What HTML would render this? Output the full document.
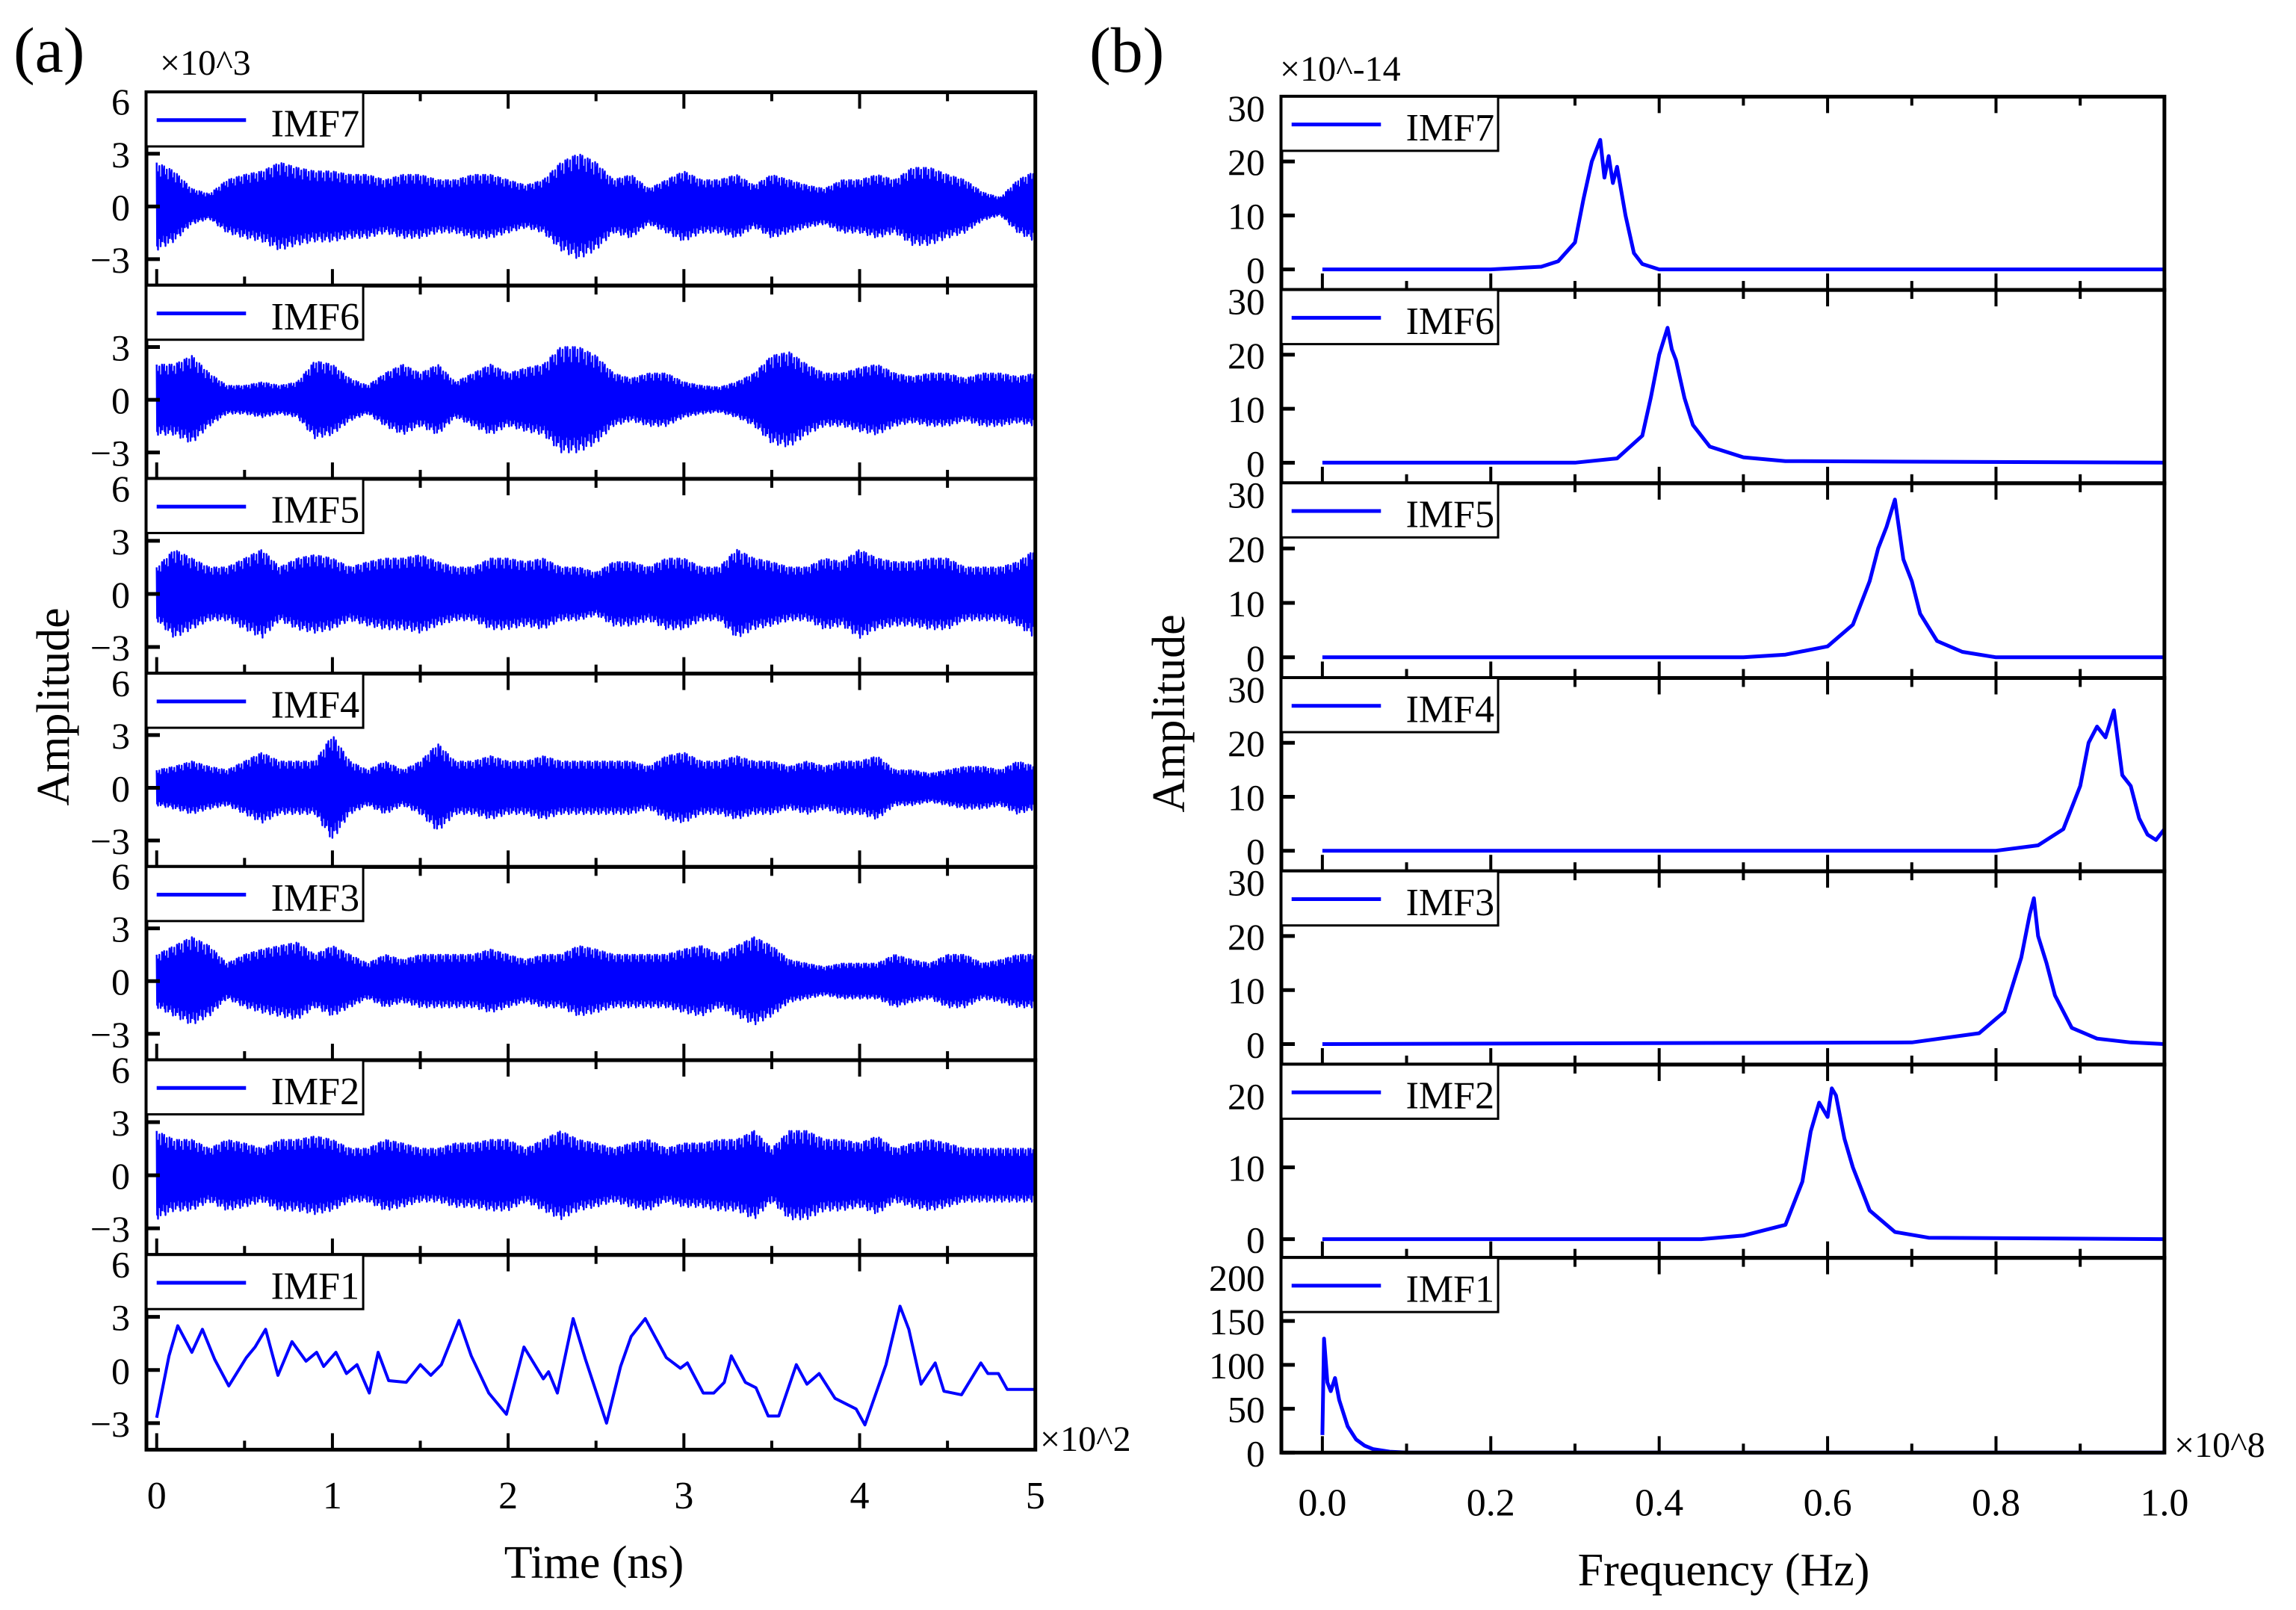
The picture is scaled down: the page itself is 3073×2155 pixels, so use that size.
<!DOCTYPE html>
<html><head><meta charset="utf-8"><style>
html,body{margin:0;padding:0;background:#fff;}
svg{display:block;font-family:"Liberation Serif",serif;}
</style></head><body>
<svg id="fig" width="3073" height="2155" viewBox="0 0 3073 2155" xmlns="http://www.w3.org/2000/svg">
<rect x="0" y="0" width="3073" height="2155" fill="#fff"/>
<g id="A"></g>
<g id="B"></g>
<text x="18" y="96" font-size="86">(a)</text>
<text x="1458" y="96" font-size="86">(b)</text>
<text x="214" y="100" font-size="48">×10^3</text>
<text x="1713" y="108" font-size="48">×10^-14</text>
<text x="1392" y="1942" font-size="48">×10^2</text>
<text x="2910" y="1950" font-size="48">×10^8</text>
<text x="795" y="2112" font-size="62" text-anchor="middle">Time (ns)</text>
<text x="2307" y="2122" font-size="62" text-anchor="middle">Frequency (Hz)</text>
<text transform="translate(92,946) rotate(-90)" font-size="62" text-anchor="middle">Amplitude</text>
<text transform="translate(1585,955) rotate(-90)" font-size="62" text-anchor="middle">Amplitude</text>
</svg>
<script>
// ---- data: time-domain IMFs (envelope amplitude every 10 ns, x10^3) ----
const imfNames = ["IMF7","IMF6","IMF5","IMF4","IMF3","IMF2","IMF1"];
const env7 = [2.5,2,1,0.7,1.5,1.8,2,2.5,2.2,2,2,1.8,1.8,1.5,1.8,1.8,1.5,1.5,1.8,1.8,1.5,1.2,1.5,2.5,3,2.5,1.5,1.8,1,1.5,2,1.5,1.5,1.8,1.2,1.8,1.5,1.2,1,1.5,1.5,1.8,1.5,2.2,2.2,1.8,1.5,0.8,0.5,1.5,2];
const env6 = [2,2,2.5,1.5,0.8,0.8,1,0.8,1,2.2,2,1.2,0.8,1.5,2,1.5,2,1,1.5,2,1.5,1.8,2,3,3,2.5,1.5,1.2,1.5,1.5,1,0.8,0.7,1,1.5,2.5,2.7,2,1.5,1.5,1.8,2,1.5,1.3,1.5,1.5,1.2,1.5,1.5,1.3,1.5];
const env5 = [1.5,2.5,2,1.5,1.5,2,2.5,1.5,2,2.2,2,1.5,1.8,2,2,2.2,1.8,1.5,1.5,2,2,1.8,2,1.5,1.5,1.2,1.8,1.8,1.5,2,2,1.5,1.5,2.5,2,1.8,1.5,1.5,2,1.8,2.5,2,1.8,1.8,2,2,1.5,1.5,1.5,1.8,2.5];
const env4 = [1,1.2,1.5,1.2,1,1.5,2,1.5,1.5,1.5,3,1.5,1,1.5,1,1.5,2.5,1.5,1.5,1.8,1.5,1.5,1.8,1.5,1.5,1.5,1.5,1.5,1.2,1.8,2,1.5,1.5,1.8,1.5,1.5,1.2,1.5,1.2,1.5,1.5,1.8,1,1,0.8,1,1.2,1.2,1,1.5,1.2];
const env3 = [1.5,2,2.5,2,1,1.5,1.8,2,2.2,1.5,2,1.5,1,1.5,1.2,1.5,1.5,1.5,1.5,1.8,1.5,1.2,1.5,1.5,2,1.8,1.5,1.5,1.5,1.5,1.8,2,1.5,2,2.5,2,1.2,1,0.8,1,1,1,1.5,1.2,1,1.5,1.5,1,1.2,1.5,1.5];
const env2 = [2.5,2,2,1.5,2,1.8,1.5,2,2,2.2,2,1.5,1.5,2,1.8,1.5,1.5,1.8,1.8,2,2,1.5,2,2.5,2,1.8,1.5,1.8,2,1.5,1.8,1.8,2,2,2.5,1.5,2.5,2.5,2,2,1.8,2.2,1.5,1.8,2,1.8,1.5,1.5,1.5,1.5,1.5];
const imf1T = [0,7,12,20,26,33,41,51,56,62,69,77,85,91,95,102,108,114,121,126,132,142,150,156,162,172,179,189,199,209,220,223,228,237,244,256,264,270,278,290,298,302,311,317,323,327,335,341,348,354,364,370,377,386,398,403,415,423,428,435,443,448,458,469,473,479,484,500];
const imf1V = [-2.7,0.8,2.5,1.0,2.3,0.6,-0.9,0.7,1.3,2.3,-0.3,1.6,0.5,1.0,0.2,1.0,-0.2,0.3,-1.3,1.0,-0.6,-0.7,0.3,-0.3,0.3,2.8,0.8,-1.3,-2.5,1.3,-0.5,-0.1,-1.3,2.9,0.6,-3.0,0.2,1.9,2.9,0.7,0.1,0.4,-1.3,-1.3,-0.7,0.8,-0.7,-1.0,-2.6,-2.6,0.3,-0.8,-0.2,-1.6,-2.2,-3.1,0.3,3.6,2.3,-0.8,0.4,-1.2,-1.4,0.4,-0.2,-0.2,-1.1,-1.1];
const aTicks = ["0","1","2","3","4","5"];
const aYTickVals = [[6,3,0,-3],[3,0,-3],[6,3,0,-3],[6,3,0,-3],[6,3,0,-3],[6,3,0,-3],[6,3,0,-3]];
// ---- data: spectra (freq x10^8, amplitude x10^-14) ----
const f7 = [0,0.2,0.26,0.28,0.3,0.31,0.32,0.33,0.335,0.34,0.345,0.35,0.36,0.37,0.38,0.4,1.0];
const s7 = [0,0,0.5,1.5,5,13,20,24,17,21,16,19,10,3,1,0,0];
const f6 = [0,0.3,0.35,0.38,0.39,0.4,0.41,0.415,0.42,0.43,0.44,0.46,0.5,0.55,1.0];
const s6 = [0,0,0.8,5,12,20,25,21,19,12,7,3,1,0.3,0];
const f5 = [0,0.5,0.55,0.6,0.63,0.65,0.66,0.67,0.68,0.69,0.7,0.71,0.73,0.76,0.8,1.0];
const s5 = [0,0,0.5,2,6,14,20,24,29,18,14,8,3,1,0,0];
const f4 = [0,0.8,0.85,0.88,0.9,0.91,0.92,0.93,0.94,0.95,0.96,0.97,0.98,0.99,1.0];
const s4 = [0,0,1,4,12,20,23,21,26,14,12,6,3,2,4];
const f3 = [0,0.7,0.78,0.81,0.83,0.84,0.845,0.85,0.86,0.87,0.89,0.92,0.96,1.0];
const s3 = [0,0.3,2,6,16,24,27,20,15,9,3,1,0.3,0];
const f2 = [0,0.45,0.5,0.55,0.57,0.58,0.59,0.6,0.605,0.61,0.62,0.63,0.65,0.68,0.72,1.0];
const s2 = [0,0,0.5,2,8,15,19,17,21,20,14,10,4,1,0.2,0];
const f1 = [0,0.002,0.006,0.01,0.015,0.02,0.03,0.04,0.05,0.06,0.08,0.1,1.0];
const s1 = [20,130,80,70,85,60,30,15,8,4,1,0,0];
const bTicks = ["0.0","0.2","0.4","0.6","0.8","1.0"];
const bYTickVals = [[0,10,20,30],[0,10,20,30],[0,10,20,30],[0,10,20,30],[0,10,20,30],[0,10,20],[0,50,100,150,200]];

const NS="http://www.w3.org/2000/svg";
const S=1.96;
function mk(parent,tag,attrs){const e=document.createElementNS(NS,tag);for(const k in attrs)e.setAttribute(k,attrs[k]);parent.appendChild(e);return e;}

function drawColumn(gid,cfg){
  const g=document.getElementById(gid);
  const xMap=v=>S*(cfg.px0+(v-cfg.d0)/(cfg.d1-cfg.d0)*(cfg.px1-cfg.px0));
  for(let p=0;p<7;p++){
    const top=S*cfg.tops[p], bot=S*(p<6?cfg.tops[p+1]:cfg.bottom);
    const [ymin,ymax]=cfg.yr[p];
    const yMap=v=>bot-(v-ymin)/(ymax-ymin)*(bot-top);
    const pg=mk(g,'g',{});
    
    
    const pts=cfg.series(p,xMap,yMap);
    const line=mk(pg,'polyline',{points:pts,fill:'none',stroke:'#0000ff','stroke-width':cfg.sw[p],'stroke-linejoin':'round'});
    
    
    const fr=mk(pg,'rect',{x:S*cfg.x0,y:top,width:S*(cfg.x1-cfg.x0),height:bot-top,fill:'none',stroke:'#000','stroke-width':5});
    
    
    for(let i=0;i<=cfg.nMinor;i++){
      const v=cfg.d0+i*(cfg.d1-cfg.d0)/cfg.nMinor;
      const len=(i%2===0)?22:12;const x=xMap(v);
      mk(pg,'line',{x1:x,x2:x,y1:top,y2:top+len,stroke:'#000','stroke-width':4});
      mk(pg,'line',{x1:x,x2:x,y1:bot,y2:bot-len,stroke:'#000','stroke-width':4});
    }
    cfg.yt[p].forEach(v=>{
      const y=yMap(v);
      mk(pg,'line',{x1:S*cfg.x0,x2:S*cfg.x0+18,y1:y,y2:y,stroke:'#000','stroke-width':5});
      const t=mk(pg,'text',{x:S*cfg.x0-22,y:y+18,'font-size':50,'text-anchor':'end'});
      t.textContent=(v<0?'\u2212'+(-v):String(v));
      
      
    });
    const lg=mk(pg,'g',{});
    
    
    mk(lg,'rect',{x:S*cfg.x0,y:top,width:S*148,height:S*37,fill:'#fff',stroke:'#000','stroke-width':3});
    mk(lg,'line',{x1:S*(cfg.x0+7),x2:S*(cfg.x0+68),y1:top+S*19,y2:top+S*19,stroke:'#0000ff','stroke-width':5});
    const lt=mk(lg,'text',{x:S*(cfg.x0+85),y:top+S*30,'font-size':52});
    lt.textContent=imfNames[p];
  }
  cfg.xt.forEach((lab,i)=>{
    const v=cfg.d0+i*(cfg.d1-cfg.d0)/(cfg.xt.length-1);
    const t=mk(g,'text',{x:xMap(v),y:S*cfg.xly,'font-size':52,'text-anchor':'middle'});
    t.textContent=lab;
    
    
  });
}

const envs=[env7,env6,env5,env4,env3,env2];
const pat=[1,-0.9,0.6,-1,0.8,-0.5,0.95,-0.75,0.4,-0.95,0.7,-0.6,1,-0.85,0.5,-0.7,0.9];
drawColumn('A',{prefix:'a',x0:100,x1:707,px0:107,px1:707,d0:0,d1:500,tops:[63,195,327,460,592,724,857],bottom:990,
  yr:Array(7).fill([-4.5,6.5]),yt:aYTickVals,nMinor:10,xt:aTicks,xly:1030,sw:[2.4,2.4,2.4,2.4,2.4,2.4,4],
  series:(p,xm,ym)=>{
    if(p===6) return imf1T.map((t,i)=>xm(t).toFixed(1)+','+ym(imf1V[i]).toFixed(1)).join(' ');
    const e=envs[p];const out=[];
    for(let k=0;k<=2000;k++){const t=k*500/2000;const u=t/10;const i=Math.min(Math.floor(u),e.length-2);const a=e[i]+(e[i+1]-e[i])*(u-i);
      out.push(xm(t).toFixed(1)+','+ym(a*pat[k%pat.length]).toFixed(1));}
    return out.join(' ');
  }});
const fs=[f7,f6,f5,f4,f3,f2,f1], ss=[s7,s6,s5,s4,s3,s2,s1];
drawColumn('B',{prefix:'b',x0:875,x1:1478,px0:903,px1:1478,d0:0,d1:1,tops:[66,198,330,463,595,727,859],bottom:992,
  yr:[[-3.8,32],[-3.8,32],[-3.8,32],[-3.8,32],[-3.8,32],[-2.6,24.3],[0,222]],yt:bYTickVals,nMinor:10,xt:bTicks,xly:1035,sw:[5,5,5,5,5,5,5],
  series:(p,xm,ym)=>fs[p].map((f,i)=>xm(f).toFixed(1)+','+ym(ss[p][i]).toFixed(1)).join(' ')});
</script>
</body></html>
